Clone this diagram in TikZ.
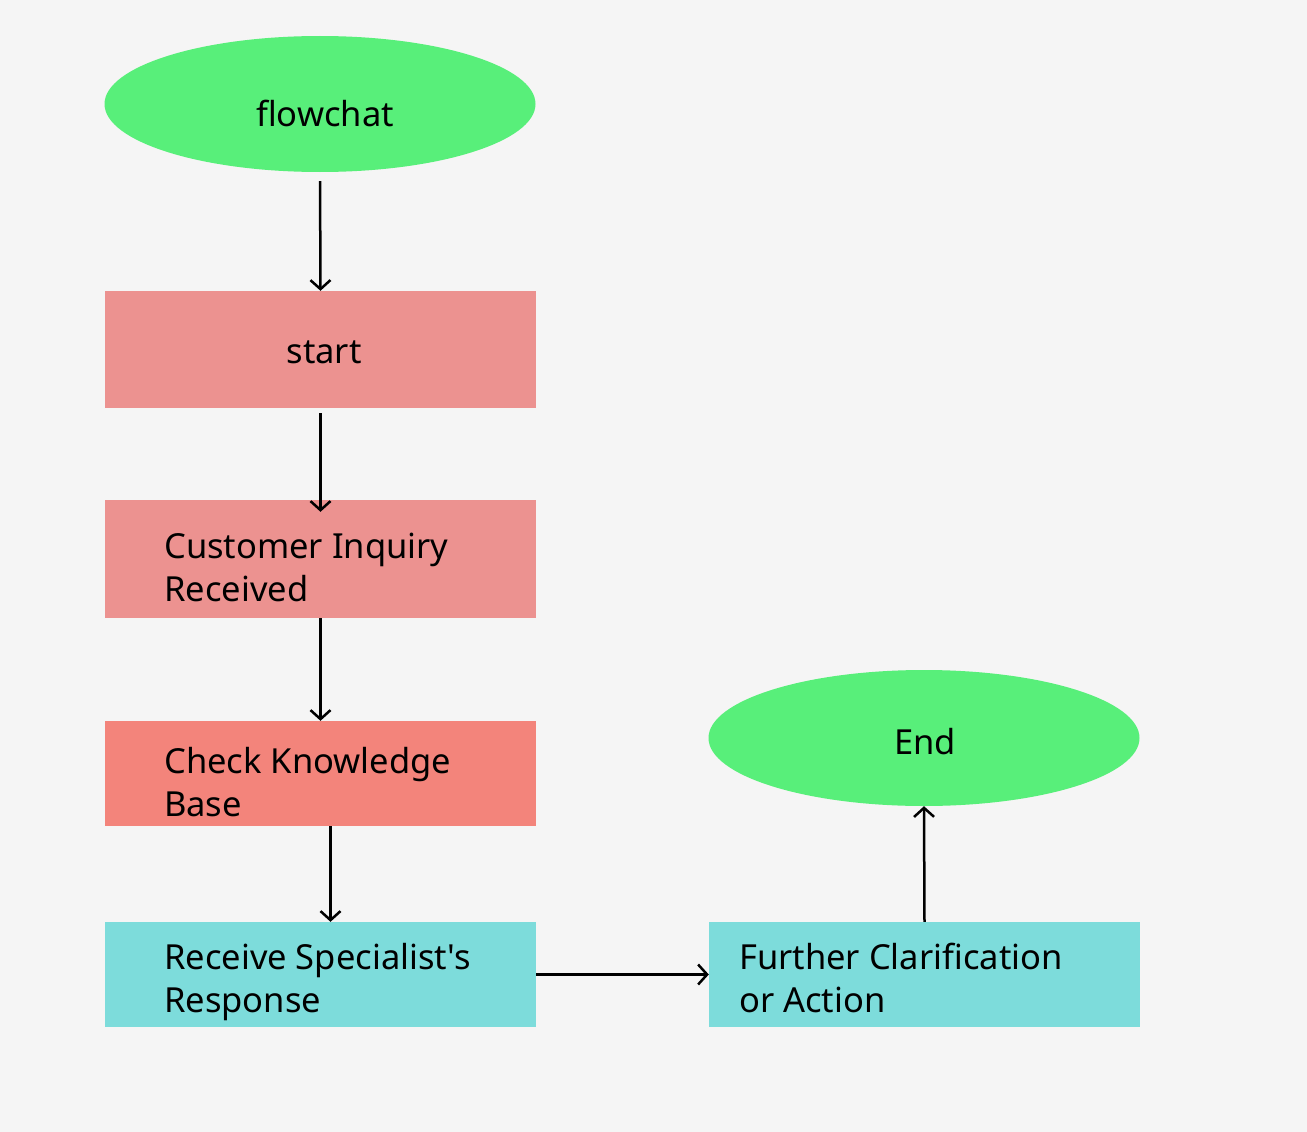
\documentclass[tikz,border=0pt]{standalone}
\usepackage{fontspec}
\setmainfont{Noto Sans}
\usetikzlibrary{arrows.meta,shapes.geometric}
\definecolor{bg}{RGB}{245,245,245}
\definecolor{termgreen}{RGB}{88,239,122}
\definecolor{boxpink}{RGB}{236,146,144}
\definecolor{boxsalmon}{RGB}{243,132,123}
\definecolor{boxcyan}{RGB}{125,220,219}
\tikzset{
  term/.style={ellipse, fill=termgreen, draw=none, minimum width=431pt, minimum height=136pt, inner sep=0pt},
  procbox/.style={rectangle, draw=none, minimum width=431pt, inner sep=0pt},
  lbl/.style={font=\fontsize{34.5}{43}\selectfont, inner sep=0pt, align=left, text=black},
  conn/.style={draw=black, line width=2.5pt, -{Straight Barb[length=9pt,width=20pt]}},
}
\begin{document}
\begin{tikzpicture}[x=1pt,y=-1pt]
\fill[bg] (0,0) rectangle (1307,1132);
\useasboundingbox (0,0) rectangle (1307,1132);

\node[term] (flow) at (320,104) {};
\node[lbl, anchor=center] (flowt) at (325,113) {flowchat};

\node[procbox, fill=boxpink, minimum height=117pt] (start) at (320.5,349.5) {};
\node[lbl, anchor=center] (startt) at (324,352) {start};

\node[procbox, fill=boxpink, minimum height=118pt] (cust) at (320.5,559) {};
\node[lbl, anchor=west] (custt) at (164,567) {Customer Inquiry\\Received};

\node[procbox, fill=boxsalmon, minimum height=105pt] (check) at (320.5,773.5) {};
\node[lbl, anchor=west] (checkt) at (164,782) {Check Knowledge\\Base};

\node[procbox, fill=boxcyan, minimum height=105pt] (recv) at (320.5,974.5) {};
\node[lbl, anchor=west] (recvt) at (164,982) {Receive Specialist\textquotesingle s\\Response};

\node[procbox, fill=boxcyan, minimum height=105pt] (further) at (924.5,974.5) {};
\node[lbl, anchor=west] (furthert) at (739,978) {Further Clarification\\or Action};

\node[term] (end) at (924,738) {};
\node[lbl, anchor=center] (endt) at (925,742) {End};

\draw[conn, shorten <=9pt] (flow.south) -- (start.north);
\draw[conn, shorten <=5pt, shorten >=-12pt] (start.south) -- (cust.north);
\draw[conn] (cust.south) -- (check.north);
\draw[conn] ([xshift=10pt]check.south) -- ([xshift=10pt]recv.north);
\draw[conn] (recv.east) -- (further.west);
\draw[conn] (further.north) -- (end.south);
\end{tikzpicture}
\end{document}
